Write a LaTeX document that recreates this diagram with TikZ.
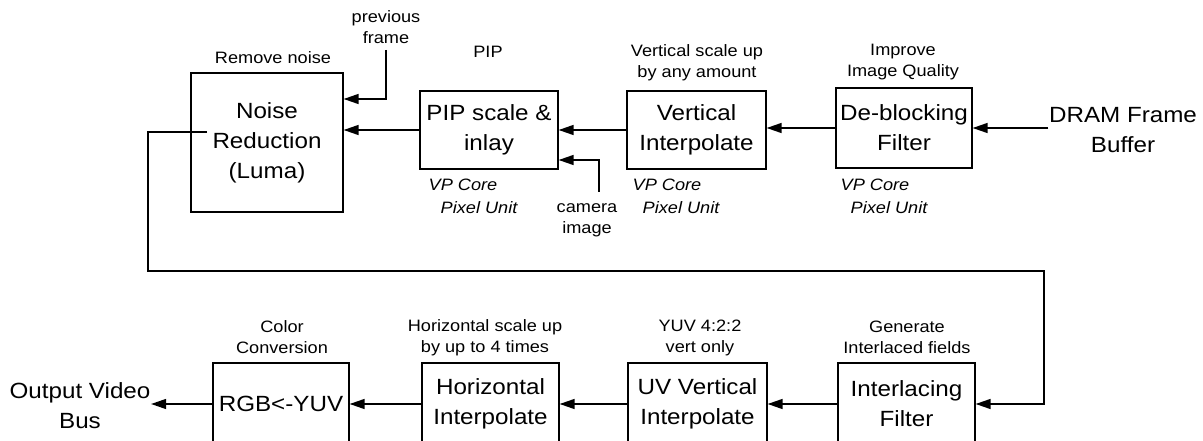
\documentclass[tikz,border=0pt]{standalone}
\usepackage{fontspec}
\setmainfont{Liberation Sans}[FakeStretch=1.1]
\usetikzlibrary{arrows.meta}
\begin{document}
\begin{tikzpicture}[x=1pt,y=-1pt, line width=1.4pt,
 blk/.style={draw, line width=1.3pt, align=center, inner sep=0pt, font=\fontsize{22}{30}\selectfont},
 big/.style={align=center, inner sep=0pt, font=\fontsize{22}{30}\selectfont},
 lbl/.style={align=center, inner sep=0pt, font=\fontsize{16.5}{21}\selectfont},
 core/.style={anchor=base west, inner sep=0pt, font=\itshape\fontsize{16.5}{21}\selectfont},
 arr/.style={-{Triangle[length=15pt,width=10pt]}, line width=1.4pt}]
\useasboundingbox (0,0) rectangle (1203,441);
\fill[white] (0,0) rectangle (1203,441);
\clip (0,0) rectangle (1203,441);
% top row
\node[blk, minimum width=152pt, minimum height=139pt] (nr) at (267,142.5) {Noise\\Reduction\\(Luma)};
\node[blk, minimum width=138pt, minimum height=78pt] (pip) at (489,130) {PIP scale \&\\inlay};
\node[blk, minimum width=139pt, minimum height=78pt] (vi) at (696.5,130) {Vertical\\Interpolate};
\node[blk, minimum width=136pt, minimum height=80pt] (db) at (904,128) {De-blocking\\Filter};
\node[big] (dram) at (1123,130) {DRAM Frame\\Buffer};
% bottom row
\node[blk, minimum width=136pt, minimum height=82pt] (rgb) at (281,404) {RGB<-YUV};
\node[blk, minimum width=137pt, minimum height=82pt] (hi) at (490.5,404) {Horizontal\\Interpolate};
\node[blk, minimum width=139pt, minimum height=82pt] (uv) at (697.5,404) {UV Vertical\\Interpolate};
\node[blk, minimum width=137pt, minimum height=82pt] (il) at (906.5,404) {Interlacing\\Filter};
\node[big] (out) at (80,406) {Output Video\\Bus};
% labels
\node[lbl] (l1) at (273,58) {Remove noise};
\node[lbl] (l2) at (386,27) {previous\\frame};
\node[lbl] (l3) at (488,52) {PIP};
\node[lbl] (l4) at (697,62.5) {Vertical scale up\\by any amount};
\node[lbl] (l5) at (903,62.5) {Improve\\Image Quality};
\node[lbl] (l6) at (587,220) {camera\\image};
\node[lbl] (l7) at (282,337.5) {Color\\Conversion};
\node[lbl] (l8) at (485,337.5) {Horizontal scale up\\by up to 4 times};
\node[lbl] (l9) at (700,337.5) {YUV 4:2:2\\vert only};
\node[lbl] (l10) at (907,337.5) {Generate\\Interlaced fields};
\node[core] (c1a) at (428,191) {VP Core};
\node[core] (c1b) at (440,214) {Pixel Unit};
\node[core] (c2a) at (632,191) {VP Core};
\node[core] (c2b) at (642,214) {Pixel Unit};
\node[core] (c3a) at (840,191) {VP Core};
\node[core] (c3b) at (850,214) {Pixel Unit};
% connectors
\coordinate (pf) at (386,50);
\coordinate (cam) at (599,192);
\coordinate (fb0) at (207,132);
\coordinate (fb1) at (148,271);
\coordinate (fb2) at (1044,271);
\draw[arr] (pf) |- ([yshift=43.5pt]nr.east);
\draw[arr] (pip.west) -- (pip.west -| nr.east);
\draw[arr] (cam) |- ([yshift=-30pt]pip.east);
\draw[arr] (vi.west) -- (pip.east);
\draw[arr] (db.west) -- (db.west -| vi.east);
\draw[arr] (dram.west |- db.east) -- (db.east);
\draw[arr] (fb0) -| (fb1) -- (fb2) |- (il.east);
\draw[arr] (il.west) -- (uv.east);
\draw[arr] (uv.west) -- (hi.east);
\draw[arr] (hi.west) -- (rgb.east);
\draw[arr] (rgb.west) -- (rgb.west -| out.east);
\end{tikzpicture}
\end{document}
